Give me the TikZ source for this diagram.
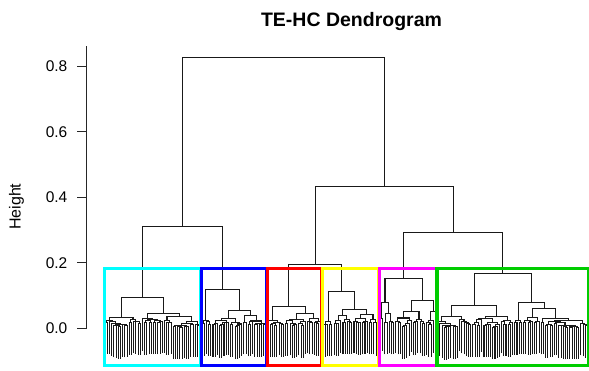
\documentclass[tikz,border=0pt]{standalone}
\usepackage{fontspec}
\setmainfont{Liberation Sans}

\definecolor{cbcyan}{RGB}{0,255,255}
\definecolor{cbblue}{RGB}{0,0,255}
\definecolor{cbred}{RGB}{255,0,0}
\definecolor{cbyellow}{RGB}{255,255,0}
\definecolor{cbmagenta}{RGB}{255,0,255}
\definecolor{cbgreen}{RGB}{0,205,0}

\tikzset{
  dline/.style={line width=1.05pt, draw=black!90, line join=miter},
  clbox/.style={line width=3.3pt},
  axisline/.style={line width=0.8pt, draw=black!85},
  ticklab/.style={anchor=base east, inner sep=0pt, font=\fontsize{15.5}{17}\selectfont},
}

% leaf positions and hang of the leaf lines (height units)
\def\dxa{102.85}
\def\dxb{2.203}
\def\dhang{0.098}

% a single leaf: returns its x, height flag -1
\newcommand\dleaf[1]{%
  \pgfmathsetmacro\dtmp{\dxa+\dxb*#1}%
  \xdef\dretx{\dtmp}\xdef\dreth{-1}}

% a merge at height #1 of the subtrees drawn by #2 and #3
\newcommand\dnode[3]{%
  \begingroup
  #2\let\dnxA\dretx\let\dnhA\dreth
  #3\let\dnxB\dretx\let\dnhB\dreth
  \pgfmathsetmacro\dnbA{\dnhA<0 ? #1-\dhang : \dnhA}%
  \pgfmathsetmacro\dnbB{\dnhB<0 ? #1-\dhang : \dnhB}%
  \draw[dline] (\dnxA,\dnbA) -- (\dnxA,#1) -- (\dnxB,#1) -- (\dnxB,\dnbB);
  \pgfmathsetmacro\dnxM{(\dnxA+\dnxB)/2}%
  \xdef\dretx{\dnxM}\xdef\dreth{#1}%
  \endgroup}

% a generated subtree: first leaf #1, #2 leaves, top merge at height #3
\newcommand\drand[3]{%
  \ifnum#2=1 \dleaf{#1}\else
  \begingroup
  \pgfmathtruncatemacro\drnA{min(#2-1,1+floor(rnd*(#2-1)))}%
  \pgfmathtruncatemacro\drnB{#2-\drnA}%
  \pgfmathtruncatemacro\driB{#1+\drnA}%
  \pgfmathsetmacro\drhA{min(#3*(0.55+0.4*rnd),0.006+0.009*sqrt(\drnA))}%
  \pgfmathsetmacro\drhB{min(#3*(0.55+0.4*rnd),0.006+0.009*sqrt(\drnB))}%
  \edef\drnext{\noexpand\dnode{#3}{\noexpand\drand{#1}{\drnA}{\drhA}}{\noexpand\drand{\driB}{\drnB}{\drhB}}}%
  \drnext
  \endgroup
  \fi}

\begin{document}
\begin{tikzpicture}[x=1pt,y=1pt]
\useasboundingbox (0,0) rectangle (589,370);
\fill[white] (0,0) rectangle (589,370);

\node[anchor=base, inner sep=0pt, font=\fontsize{19.5}{22}\selectfont\bfseries] (title) at (351.5,343) {TE-HC Dendrogram};
\node[rotate=90, anchor=base, inner sep=0pt, font=\fontsize{16}{18}\selectfont] (ylab) at (20.5,163.3) {Height};

\begin{scope}[yshift=41.7pt, y=327.5pt]
  \pgfmathsetseed{2024}
  % the tree
  \dnode{0.8275}{%
    \dnode{0.310}{%
      \dnode{0.0947}{\dnode{0.032}{\drand{1}{11}{0.024}}{\drand{12}{6}{0.026}}}{\dnode{0.046}{\drand{18}{10}{0.03}}{\drand{28}{17}{0.035}}}%
    }{%
      \dnode{0.119}{\drand{45}{5}{0.025}}{\dnode{0.054}{\drand{50}{14}{0.03}}{\drand{64}{11}{0.04}}}%
    }%
  }{%
    \dnode{0.432}{%
      \dnode{0.196}{%
        \dnode{0.068}{\drand{75}{8}{0.025}}{\dnode{0.046}{\drand{83}{10}{0.028}}{\drand{93}{7}{0.03}}}%
      }{%
        \dnode{0.112}{\drand{100}{5}{0.02}}{\dnode{0.058}{\drand{105}{9}{0.038}}{\drand{114}{12}{0.043}}}%
      }%
    }{%
      \dnode{0.292}{%
        \dnode{0.151}{\dnode{0.079}{\drand{126}{2}{0.03}}{\drand{128}{5}{0.046}}}{\dnode{0.084}{\drand{133}{14}{0.05}}{\drand{147}{5}{0.052}}}%
      }{%
        \dnode{0.168}{\dnode{0.071}{\drand{152}{16}{0.035}}{\drand{168}{19}{0.035}}}{\dnode{0.078}{\drand{187}{4}{0.025}}{\dnode{0.061}{\drand{191}{8}{0.033}}{\drand{199}{22}{0.03}}}}%
      }%
    }%
  }

  % cluster boxes
  \foreach \c/\s/\e in {cbcyan/0/44, cbblue/44/74, cbred/74/99, cbyellow/99/125, cbmagenta/125/151, cbgreen/151/220}
    \draw[clbox, draw=\c] ({\dxa+\dxb*(\s+0.66)},-0.1142) rectangle ({\dxa+\dxb*(\e+0.33)},0.182);

  % height axis
  \coordinate (axbot) at (86.5,0);
  \coordinate (axtop) at (86.5,0.862);
  \draw[axisline] (axbot) -- (axtop);
  \foreach \t/\lab [count=\k] in {0/0.0, 0.2/0.2, 0.4/0.4, 0.6/0.6, 0.8/0.8} {
    \draw[axisline] (86.5,\t) -- (77,\t);
    \node[ticklab, yshift=-5.5pt] (tick\k) at (67.5,\t) {\lab};
  }
\end{scope}
\end{tikzpicture}
\end{document}
